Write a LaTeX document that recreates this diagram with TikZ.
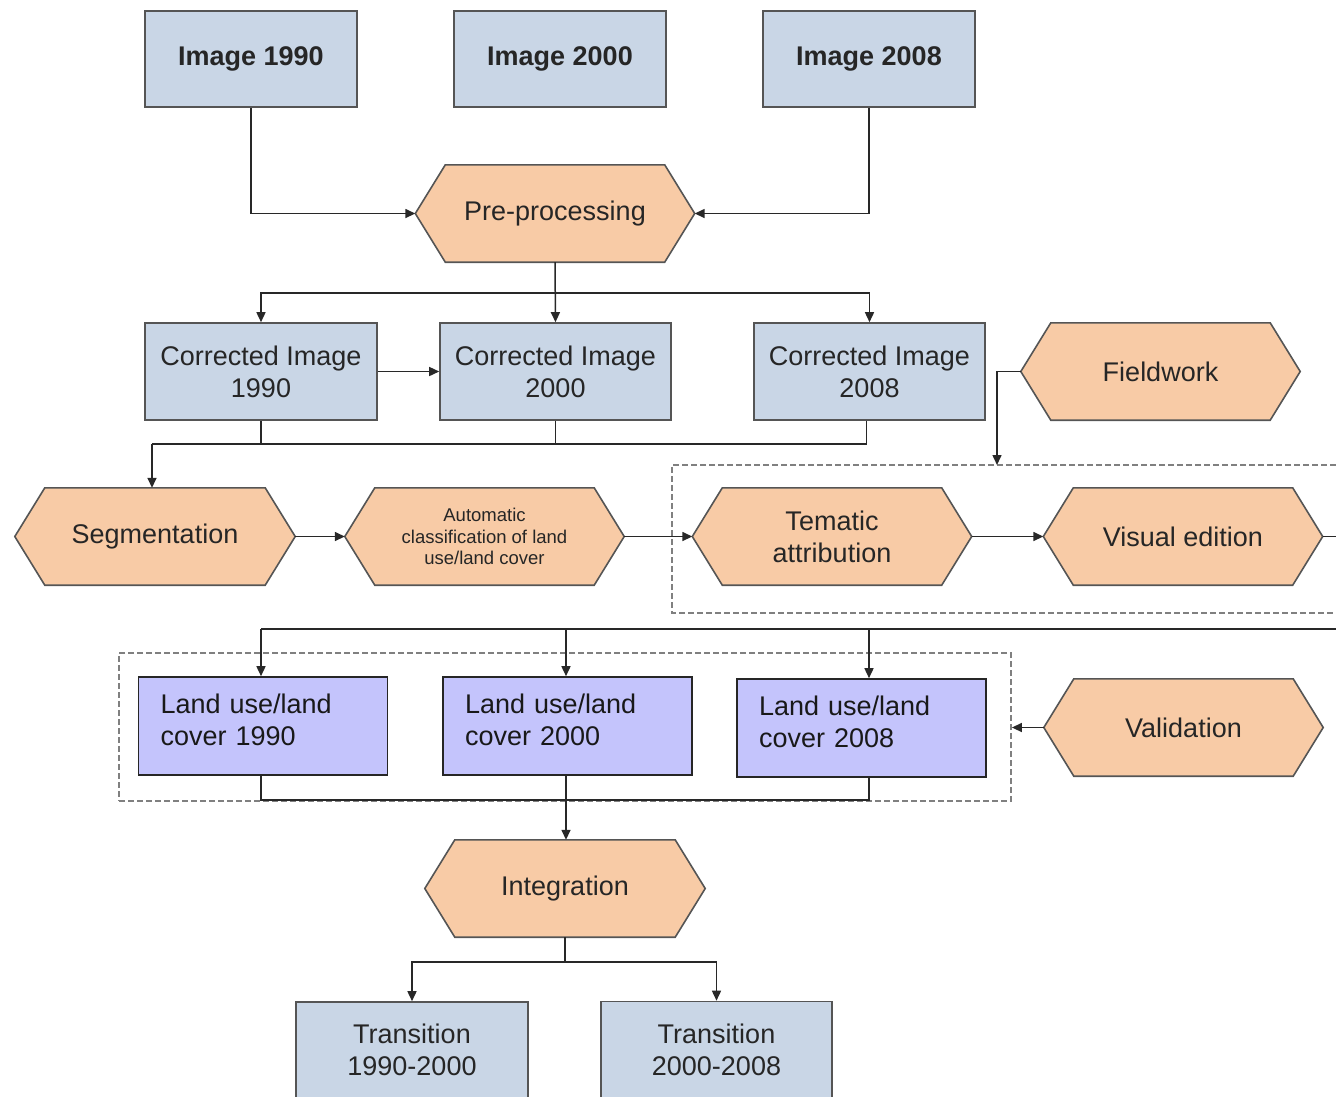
\documentclass[tikz,border=0pt]{standalone}
\usepackage{fontspec}
\setmainfont{Liberation Sans}
\usetikzlibrary{arrows.meta,backgrounds,calc}
\definecolor{boxblue}{RGB}{201,214,230}
\definecolor{peach}{RGB}{248,203,166}
\definecolor{lav}{RGB}{196,196,252}
\definecolor{edgecol}{RGB}{85,85,85}
\definecolor{conncol}{RGB}{40,40,40}
\newcommand\hexdraw[1]{%
  \begin{pgfonlayer}{background}
  \draw[draw=edgecol,line width=1.6pt,fill=peach] (#1.west) -- ([xshift=30pt]#1.north west) -- ([xshift=-30pt]#1.north east) -- (#1.east) -- ([xshift=-30pt]#1.south east) -- ([xshift=30pt]#1.south west) -- cycle;
  \end{pgfonlayer}}
\begin{document}
\begin{tikzpicture}[x=1pt,y=-1pt,
 imgbox/.style={draw=edgecol, line width=1.6pt, fill=boxblue, minimum width=212pt, minimum height=96pt, inner sep=0pt, font=\fontsize{27}{32}\selectfont\bfseries, text=black!85, align=center},
 corbox/.style={draw=edgecol, line width=1.6pt, fill=boxblue, minimum width=231pt, minimum height=97pt, inner sep=0pt, font=\fontsize{27}{32}\selectfont, align=center, text=black!85},
 lubox/.style={draw=black!85, line width=1.6pt, fill=lav, minimum width=249pt, minimum height=98pt, inner sep=0pt},
 lutext/.style={text width=205pt, inner sep=0pt, align=left, font=\fontsize{27}{32}\selectfont, text=black!90},
 hexa/.style={minimum width=279pt, minimum height=97pt, inner sep=0pt, font=\fontsize{27}{32}\selectfont, align=center, text=black!85},
 conn/.style={draw=conncol, line width=1.5pt},
 arr/.style={conn, -{Triangle[length=10pt,width=9pt]}},
 dbox/.style={draw=gray, line width=1.8pt, dash pattern=on 6pt off 3pt},
]
\useasboundingbox (0,0) rectangle (1336,1096);

% dashed groups
\draw[dbox] (1336,465) -- (672,465) -- (672,613) -- (1336,613);
\node[dbox, minimum width=892pt, minimum height=148pt, inner sep=0pt] (grp) at (565,727) {};

% top images
\node[imgbox] (img1990) at (251,59) {Image 1990};
\node[imgbox] (img2000) at (560,59) {Image 2000};
\node[imgbox] (img2008) at (869,59) {Image 2008};

\node[hexa] (pre) at (555,213.5) {Pre-processing}; \hexdraw{pre}

\node[corbox, minimum width=232pt] (cor1990) at (261,371.5) {Corrected Image\\1990};
\node[corbox] (cor2000) at (555.5,371.5) {Corrected Image\\2000};
\node[corbox] (cor2008) at (869.5,371.5) {Corrected Image\\2008};

\node[hexa] (fw) at (1160.5,371.5) {Fieldwork}; \hexdraw{fw}

\node[hexa, minimum width=280pt] (seg) at (155,536.5) {Segmentation}; \hexdraw{seg}
\node[hexa, font=\fontsize{18.5}{21.5}\selectfont] (auto) at (484.5,536.5) {Automatic\\classification of land\\use/land cover}; \hexdraw{auto}
\node[hexa] (tem) at (832,536.5) {Tematic\\attribution}; \hexdraw{tem}
\node[hexa] (ve) at (1183,536.5) {Visual edition}; \hexdraw{ve}

\node[lubox] (lu1990) at (263,726) {};
\node[lutext] (lu1990t) at (263,720) {Land use/land\\cover 1990};
\node[lubox] (lu2000) at (567.5,726) {};
\node[lutext] (lu2000t) at (567.5,720) {Land use/land\\cover 2000};
\node[lubox] (lu2008) at (861.5,728) {};
\node[lutext] (lu2008t) at (861.5,722) {Land use/land\\cover 2008};

\node[hexa] (val) at (1183.5,727.5) {Validation}; \hexdraw{val}

\node[hexa, minimum width=280pt] (integ) at (565,888.5) {Integration}; \hexdraw{integ}

\node[corbox, minimum width=232pt, minimum height=96pt] (tr1) at (412,1050) {Transition\\1990-2000};
\node[corbox] (tr2) at (716.5,1050) {Transition\\2000-2008};

% connectors
\draw[arr] (img1990.south) |- (pre.west);
\draw[arr] (img2008.south) |- (pre.east);
\coordinate (b1) at (555,293);
\draw[arr] (pre.south) -- (cor2000.north);
\draw[arr] (b1) -| (cor1990.north);
\draw[arr] (b1) -| (cor2008.north);
\draw[arr] (cor1990.east) -- (cor2000.west);

\coordinate (b2) at (152,444);
\draw[conn] (cor1990.south) -- (cor1990.south |- b2);
\draw[conn] (cor2000.south) -- (cor2000.south |- b2);
\draw[conn] ([xshift=-3pt]cor2008.south) |- (b2);
\draw[arr] (b2) -- (seg.north -| b2);

\coordinate (ftop) at (997,465);
\draw[arr] (fw.west) -| (ftop);

\draw[arr] (seg.east) -- (auto.west);
\draw[arr] (auto.east) -- (tem.west);
\draw[arr] (tem.east) -- (ve.west);
\coordinate (vr) at (1336,536.5);
\draw[conn] (ve.east) -- (vr);

\coordinate (re) at (1336,629);
\coordinate (a2) at (566,629);
\coordinate (a1) at (261,629);
\coordinate (a3) at (869,629);
\draw[conn, line width=2.6pt] (re) -- (a2);
\draw[conn] (a2) -- (a1);
\draw[arr] (a1) -- (a1 |- lu1990.north);
\draw[arr] (a2) -- (a2 |- lu2000.north);
\draw[arr] (a3) -- (a3 |- lu2008.north);

\draw[arr] (val.west) -- (val.west -| grp.east);

\coordinate (m) at (566,800);
\draw[conn] (a1 |- lu1990.south) |- (m);
\draw[conn] (a3 |- lu2008.south) |- (m);
\draw[arr] (a2 |- lu2000.south) -- (a2 |- integ.north);

\coordinate (m2) at (565,962);
\draw[conn] (integ.south) -- (m2);
\draw[arr] (m2) -| (tr1.north);
\draw[arr] (m2) -| (tr2.north);
\end{tikzpicture}
\end{document}
